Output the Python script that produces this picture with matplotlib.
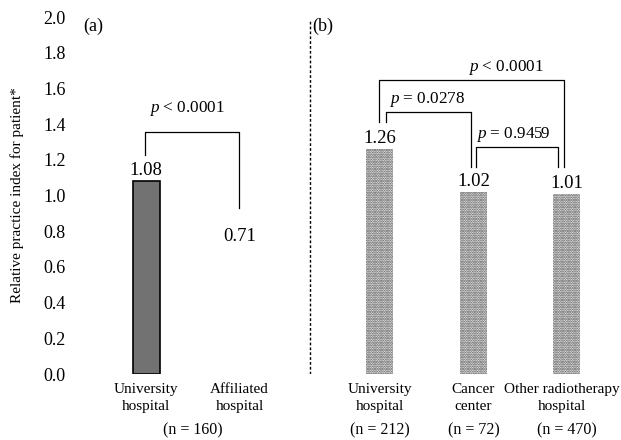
import matplotlib
matplotlib.use("Agg")
import matplotlib.pyplot as plt

plt.rcParams['font.family'] = ['Liberation Serif', 'DejaVu Serif']
plt.rcParams['mathtext.fontset'] = 'custom'
plt.rcParams['mathtext.rm'] = 'Liberation Serif'
plt.rcParams['mathtext.it'] = 'Liberation Serif:italic'
plt.rcParams['hatch.linewidth'] = 1.2

# Data
categories_a = ["University\nhospital", "Affiliated\nhospital"]
values_a = [1.08, 0.71]
n_a = "(n = 160)"
categories_b = ["University\nhospital", "Cancer\ncenter", "Other radiotherapy\nhospital"]
values_b = [1.26, 1.02, 1.01]
n_b = ["(n = 212)", "(n = 72)", "(n = 470)"]
yticks = [0.0, 0.2, 0.4, 0.6, 0.8, 1.0, 1.2, 1.4, 1.6, 1.8, 2.0]
ylabel = "Relative practice index for patient*"

pos_a = [0, 1]
pos_b = [2.5, 3.5, 4.5]

fig = plt.figure(figsize=(6.21, 4.40), dpi=100)
ax = fig.add_axes([0.1256, 0.15, 0.873, 0.811])
ax.set_xlim(-0.73, 5.07)
ax.set_ylim(0, 2.0)

w = 0.29
ax.bar(pos_a[0], values_a[0], width=w, color='#727272', edgecolor='black', linewidth=1.2)
ax.bar(pos_a[1], values_a[1], width=w, color='white', edgecolor='none')
ax.bar(pos_b, values_b, width=w, color='white', edgecolor='#444444', hatch='.......', linewidth=0)

fs = 13.5
pfs = 12.3
for x, v in zip(pos_a, values_a):
    ax.text(x, v + 0.012, f"{v:.2f}", ha='center', va='bottom', fontsize=fs)
for x, v in zip(pos_b, values_b):
    ax.text(x, v + 0.012, f"{v:.2f}", ha='center', va='bottom', fontsize=fs)

def bracket(x1, x2, ytop, y1, y2, label, tx, ty):
    ax.plot([x1, x1, x2, x2], [y1, ytop, ytop, y2], color='black', lw=0.9)
    ax.text(tx, ty, label, ha='center', va='center', fontsize=pfs)

bracket(-0.01, 0.99, 1.355, 1.227, 0.93, r"$p$ < 0.0001", 0.44, 1.49)
bracket(2.49, 4.47, 1.65, 1.41, 1.16, r"$p$ < 0.0001", 3.85, 1.72)
bracket(2.56, 3.47, 1.47, 1.41, 1.16, r"$p$ = 0.0278", 3.0, 1.54)
bracket(3.53, 4.41, 1.27, 1.16, 1.16, r"$p$ = 0.9459", 3.93, 1.34)

# separator
ax.axvline(1.75, ymin=0, ymax=0.99, color='black', lw=1.0, ls=(0, (2, 1.5)))
ax.axhline(0, color='#999999', lw=0.8, ls=(0, (1, 3)))

ax.text(-0.67, 1.95, "(a)", ha='left', va='center', fontsize=13)
ax.text(1.78, 1.95, "(b)", ha='left', va='center', fontsize=13)

for s in ax.spines.values():
    s.set_visible(False)
ax.set_yticks(yticks)
ax.set_yticklabels([f"{t:.1f}" for t in yticks], fontsize=13)
ax.tick_params(axis='y', length=0, pad=9)
ax.set_xticks([])

xt = ax.get_xaxis_transform()
cats = categories_a + categories_b
poss = pos_a + pos_b
shifts = [0, 0, 0, 0, -0.05]
for x, c, s in zip(poss, cats, shifts):
    ax.text(x + s, -0.025, c, transform=xt, ha='center', va='top', fontsize=11, linespacing=1.45)

ax.text(0.5, -0.135, n_a, transform=xt, ha='center', va='top', fontsize=11.5)
for x, t in zip(pos_b, n_b):
    ax.text(x, -0.135, t, transform=xt, ha='center', va='top', fontsize=11.5)

ax.set_ylabel(ylabel, fontsize=11)
ax.yaxis.set_label_coords(-0.1, 0.5)

fig.savefig("out.png", dpi=100)
